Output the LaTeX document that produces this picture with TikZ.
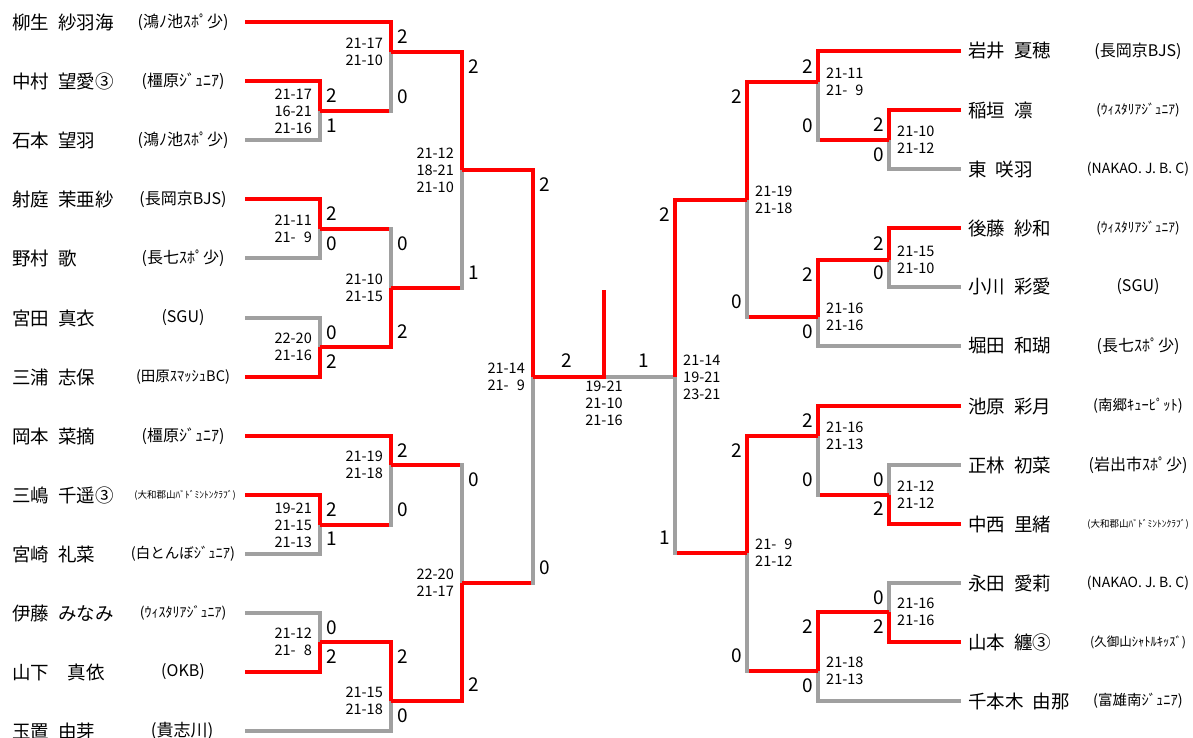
\documentclass[tikz,border=0pt]{standalone}
\usepackage{fontspec}
\setmainfont{Noto Sans CJK JP}
\newfontfamily\scorefamily[Numbers=Monospaced]{Noto Sans CJK JP}
\usepackage{xcolor}
\usepackage{tikz}
\usetikzlibrary{positioning, calc}
\definecolor{wonred}{RGB}{255,0,0}
\definecolor{lostgrey}{RGB}{160,160,160}
\newcommand\namefont{\fontsize{18.5}{20}\selectfont\fontdimen2\font=0.5em\relax}
\newcommand\scorefont{\scorefamily\fontsize{14.5}{17}\selectfont\fontdimen2\font=\fontcharwd\font`0\relax}
\newcommand\clubsize[1]{\fontsize{#1}{#1}\selectfont}

\begin{document}
\begin{tikzpicture}[
    x=1pt, y=-1pt,
    win/.style={draw=wonred, line width=4.2pt},
    lose/.style={draw=lostgrey, line width=4.2pt},
    player/.style={anchor=west, inner sep=0pt, font=\namefont},
    club/.style={inner sep=0pt, font=\clubsize{16}},
    scoreL/.style={align=right, inner sep=0pt, font=\scorefont},
    scoreR/.style={align=left, inner sep=0pt, font=\scorefont},
    countL/.style={anchor=west, inner sep=0pt, font=\clubsize{19}},
    countR/.style={anchor=east, inner sep=0pt, font=\clubsize{19}}
]
\useasboundingbox (0,0) rectangle (1193,738);

% left players
\node[player] (pL1) at (12,22) {柳生 紗羽海};
\node[club] (cL1) at (183,22) {(鴻ﾉ池ｽﾎﾟ少)};
\node[player] (pL2) at (12,81) {中村 望愛③};
\node[club] (cL2) at (183,81) {(橿原ｼﾞｭﾆｱ)};
\node[player] (pL3) at (12,140) {石本 望羽};
\node[club] (cL3) at (183,140) {(鴻ﾉ池ｽﾎﾟ少)};
\node[player] (pL4) at (12,199) {射庭 茉亜紗};
\node[club] (cL4) at (183,199) {(長岡京BJS)};
\node[player] (pL5) at (12,258) {野村 歌};
\node[club] (cL5) at (183,258) {(長七ｽﾎﾟ少)};
\node[player] (pL6) at (12,318) {宮田 真衣};
\node[club] (cL6) at (183,318) {(SGU)};
\node[player] (pL7) at (12,377) {三浦 志保};
\node[club, font=\clubsize{14.5}] (cL7) at (183,377) {(田原ｽﾏｯｼｭBC)};
\node[player] (pL8) at (12,436) {岡本 菜摘};
\node[club] (cL8) at (183,436) {(橿原ｼﾞｭﾆｱ)};
\node[player] (pL9) at (12,495) {三嶋 千遥③};
\node[club, font=\clubsize{9.5}] (cL9) at (185,495) {(大和郡山ﾊﾞﾄﾞﾐﾝﾄﾝｸﾗﾌﾞ)};
\node[player] (pL10) at (12,554) {宮崎 礼菜};
\node[club, font=\clubsize{14.5}] (cL10) at (183,554) {(白とんぼｼﾞｭﾆｱ)};
\node[player] (pL11) at (12,613) {伊藤 みなみ};
\node[club, font=\clubsize{14}] (cL11) at (183,613) {(ｳｨｽﾀﾘｱｼﾞｭﾆｱ)};
\node[player] (pL12) at (12,672) {山下　真依};
\node[club] (cL12) at (183,672) {(OKB)};
\node[player] (pL13) at (12,731) {玉置 由芽};
\node[club, font=\clubsize{17}] (cL13) at (182,731) {(貴志川)};

% right players
\node[player] (pR1) at (968,51) {岩井 夏穂};
\node[club] (cR1) at (1138,51) {(長岡京BJS)};
\node[player] (pR2) at (968,110) {稲垣 凛};
\node[club, font=\clubsize{13.5}] (cR2) at (1138,110) {(ｳｨｽﾀﾘｱｼﾞｭﾆｱ)};
\node[player] (pR3) at (968,169) {東 咲羽};
\node[club, font=\clubsize{14}] (cR3) at (1138,169) {(NAKAO. J. B. C)};
\node[player] (pR4) at (968,228) {後藤 紗和};
\node[club, font=\clubsize{13.5}] (cR4) at (1138,228) {(ｳｨｽﾀﾘｱｼﾞｭﾆｱ)};
\node[player] (pR5) at (968,287) {小川 彩愛};
\node[club] (cR5) at (1138,287) {(SGU)};
\node[player] (pR6) at (968,346) {堀田 和瑚};
\node[club] (cR6) at (1138,346) {(長七ｽﾎﾟ少)};
\node[player] (pR7) at (968,406) {池原 彩月};
\node[club, font=\clubsize{14.5}] (cR7) at (1138,406) {(南郷ｷｭｰﾋﾟｯﾄ)};
\node[player] (pR8) at (968,465) {正林 初菜};
\node[club] (cR8) at (1138,465) {(岩出市ｽﾎﾟ少)};
\node[player] (pR9) at (968,524) {中西 里緒};
\node[club, font=\clubsize{9.5}] (cR9) at (1138,524) {(大和郡山ﾊﾞﾄﾞﾐﾝﾄﾝｸﾗﾌﾞ)};
\node[player] (pR10) at (968,583) {永田 愛莉};
\node[club, font=\clubsize{14}] (cR10) at (1138,583) {(NAKAO. J. B. C)};
\node[player] (pR11) at (968,642) {山本 纏③};
\node[club, font=\clubsize{12.5}] (cR11) at (1138,642) {(久御山ｼｬﾄﾙｷｯｽﾞ)};
\node[player] (pR12) at (968,701) {千本木 由那};
\node[club, font=\clubsize{14.5}] (cR12) at (1138,701) {(富雄南ｼﾞｭﾆｱ)};

% line ends and junctions
\coordinate (L1) at (245,22);   \coordinate (L2) at (245,81);
\coordinate (L3) at (245,140);  \coordinate (L4) at (245,199);
\coordinate (L5) at (245,258);  \coordinate (L6) at (245,318);
\coordinate (L7) at (245,377);  \coordinate (L8) at (245,436);
\coordinate (L9) at (245,495);  \coordinate (L10) at (245,554);
\coordinate (L11) at (245,613); \coordinate (L12) at (245,672);
\coordinate (L13) at (245,731);
\coordinate (R1) at (961,51);   \coordinate (R2) at (961,110);
\coordinate (R3) at (961,169);  \coordinate (R4) at (961,228);
\coordinate (R5) at (961,287);  \coordinate (R6) at (961,346);
\coordinate (R7) at (961,406);  \coordinate (R8) at (961,465);
\coordinate (R9) at (961,524);  \coordinate (R10) at (961,583);
\coordinate (R11) at (961,642); \coordinate (R12) at (961,701);

\coordinate (m1) at (320,111);  \coordinate (m2) at (391,52);
\coordinate (m3) at (320,229);  \coordinate (m4) at (320,347);
\coordinate (m5) at (391,288);  \coordinate (m6) at (462,170);
\coordinate (m7) at (320,525);  \coordinate (m8) at (391,465);
\coordinate (m9) at (320,642);  \coordinate (m10) at (391,701);
\coordinate (m11) at (462,583); \coordinate (m12) at (533,377);
\coordinate (n1) at (889,140);  \coordinate (n2) at (818,82);
\coordinate (n3) at (889,260);  \coordinate (n4) at (818,317);
\coordinate (n5) at (747,200);  \coordinate (n6) at (889,495);
\coordinate (n7) at (818,436);  \coordinate (n8) at (889,612);
\coordinate (n9) at (818,671);  \coordinate (n10) at (747,553);
\coordinate (n11) at (675,377);
\coordinate (fin) at (604,377); \coordinate (champ) at (604,290);

% losers
\draw[lose] (L3) -| (m1);   \draw[lose] (L5) -| (m3);
\draw[lose] (L6) -| (m4);   \draw[lose] (L10) -| (m7);
\draw[lose] (L11) -| (m9);  \draw[lose] (L13) -| (m10);
\draw[lose] (m1) -| (m2);   \draw[lose] (m3) -| (m5);
\draw[lose] (m5) -| (m6);   \draw[lose] (m7) -| (m8);
\draw[lose] (m8) -| (m11);  \draw[lose] (m11) -| (m12);
\draw[lose] (R3) -| (n1);   \draw[lose] (R5) -| (n3);
\draw[lose] (R6) -| (n4);   \draw[lose] (R8) -| (n6);
\draw[lose] (R10) -| (n8);  \draw[lose] (R12) -| (n9);
\draw[lose] (n1) -| (n2);   \draw[lose] (n4) -| (n5);
\draw[lose] (n6) -| (n7);   \draw[lose] (n9) -| (n10);
\draw[lose] (n10) -| (n11); \draw[lose] (n11) -- (fin);

% winners
\draw[win] (L2) -| (m1);   \draw[win] (L1) -| (m2);
\draw[win] (L4) -| (m3);   \draw[win] (L7) -| (m4);
\draw[win] (m4) -| (m5);   \draw[win] (m2) -| (m6);
\draw[win] (L9) -| (m7);   \draw[win] (L8) -| (m8);
\draw[win] (L12) -| (m9);  \draw[win] (m9) -| (m10);
\draw[win] (m10) -| (m11); \draw[win] (m6) -| (m12);
\draw[win] (m12) -| (champ);
\draw[win] (R2) -| (n1);   \draw[win] (R1) -| (n2);
\draw[win] (R4) -| (n3);   \draw[win] (n3) -| (n4);
\draw[win] (n2) -| (n5);   \draw[win] (R9) -| (n6);
\draw[win] (R7) -| (n7);   \draw[win] (R11) -| (n8);
\draw[win] (n8) -| (n9);   \draw[win] (n7) -| (n10);
\draw[win] (n5) -| (n11);
% a won match still shows red up to the next round
\draw[win, shorten >=2.1pt] (m1) -- (m1 -| m2);
\draw[win, shorten >=2.1pt] (m3) -- (m3 -| m5);
\draw[win, shorten >=2.1pt] (m5) -- (m5 -| m6);
\draw[win, shorten >=2.1pt] (m7) -- (m7 -| m8);
\draw[win, shorten >=2.1pt] (m8) -- (m8 -| m11);
\draw[win, shorten >=2.1pt] (m11) -- (m11 -| m12);
\draw[win, shorten >=2.1pt] (n1) -- (n1 -| n2);
\draw[win, shorten >=2.1pt] (n4) -- (n4 -| n5);
\draw[win, shorten >=2.1pt] (n6) -- (n6 -| n7);
\draw[win, shorten >=2.1pt] (n9) -- (n9 -| n10);
\draw[win, shorten >=2.1pt] (n10) -- (n10 -| n11);

% game scores
\node[scoreL, left=8pt of m1] (s1) {21-17\\16-21\\21-16};
\node[scoreL, left=8pt of m2] (s2) {21-17\\21-10};
\node[scoreL, left=8pt of m3] (s3) {21-11\\21- 9};
\node[scoreL, left=8pt of m4] (s4) {22-20\\21-16};
\node[scoreL, left=8pt of m5] (s5) {21-10\\21-15};
\node[scoreL, left=8pt of m6] (s6) {21-12\\18-21\\21-10};
\node[scoreL, left=8pt of m7] (s7) {19-21\\21-15\\21-13};
\node[scoreL, left=8pt of m8] (s8) {21-19\\21-18};
\node[scoreL, left=8pt of m9] (s9) {21-12\\21- 8};
\node[scoreL, left=8pt of m10] (s10) {21-15\\21-18};
\node[scoreL, left=8pt of m11] (s11) {22-20\\21-17};
\node[scoreL, left=8pt of m12] (s12) {21-14\\21- 9};
\node[scoreL, align=center, below=4pt of fin] (sf) {19-21\\21-10\\21-16};
\node[scoreR, right=8pt of n1] (t1) {21-10\\21-12};
\node[scoreR, right=8pt of n2] (t2) {21-11\\21- 9};
\node[scoreR, right=8pt of n3] (t3) {21-15\\21-10};
\node[scoreR, right=8pt of n4] (t4) {21-16\\21-16};
\node[scoreR, right=8pt of n5] (t5) {21-19\\21-18};
\node[scoreR, right=8pt of n6] (t6) {21-12\\21-12};
\node[scoreR, right=8pt of n7] (t7) {21-16\\21-13};
\node[scoreR, right=8pt of n8] (t8) {21-16\\21-16};
\node[scoreR, right=8pt of n9] (t9) {21-18\\21-13};
\node[scoreR, right=8pt of n10] (t10) {21- 9\\21-12};
\node[scoreR, right=8pt of n11] (t11) {21-14\\19-21\\23-21};

% games won
\node[countL] (w1a) at (326,96) {2};   \node[countL] (w1b) at (326,126) {1};
\node[countL] (w2a) at (397,37) {2};   \node[countL] (w2b) at (397,97) {0};
\node[countL] (w3a) at (326,214) {2};  \node[countL] (w3b) at (326,244) {0};
\node[countL] (w4a) at (326,333) {0};  \node[countL] (w4b) at (326,362) {2};
\node[countL] (w5a) at (397,244) {0};  \node[countL] (w5b) at (397,332) {2};
\node[countL] (w6a) at (468,67) {2};   \node[countL] (w6b) at (468,273) {1};
\node[countL] (w7a) at (326,510) {2};  \node[countL] (w7b) at (326,539) {1};
\node[countL] (w8a) at (397,451) {2};  \node[countL] (w8b) at (397,510) {0};
\node[countL] (w9a) at (326,628) {0};  \node[countL] (w9b) at (326,657) {2};
\node[countL] (w10a) at (397,657) {2}; \node[countL] (w10b) at (397,716) {0};
\node[countL] (w11a) at (468,480) {0}; \node[countL] (w11b) at (468,685) {2};
\node[countL] (w12a) at (539,185) {2}; \node[countL] (w12b) at (539,568) {0};
\node[countL, anchor=center] (wfa) at (567,361) {2};
\node[countL, anchor=center] (wfb) at (644,361) {1};
\node[countR] (v1a) at (884,125) {2};  \node[countR] (v1b) at (884,155) {0};
\node[countR] (v2a) at (813,67) {2};   \node[countR] (v2b) at (813,126) {0};
\node[countR] (v3a) at (884,244) {2};  \node[countR] (v3b) at (884,273) {0};
\node[countR] (v4a) at (813,275) {2};  \node[countR] (v4b) at (813,332) {0};
\node[countR] (v5a) at (742,97) {2};   \node[countR] (v5b) at (742,302) {0};
\node[countR] (v6a) at (884,480) {0};  \node[countR] (v6b) at (884,509) {2};
\node[countR] (v7a) at (813,421) {2};  \node[countR] (v7b) at (813,480) {0};
\node[countR] (v8a) at (884,598) {0};  \node[countR] (v8b) at (884,627) {2};
\node[countR] (v9a) at (813,627) {2};  \node[countR] (v9b) at (813,686) {0};
\node[countR] (v10a) at (742,451) {2}; \node[countR] (v10b) at (742,656) {0};
\node[countR] (v11a) at (670,215) {2}; \node[countR] (v11b) at (670,538) {1};
\end{tikzpicture}
\end{document}
